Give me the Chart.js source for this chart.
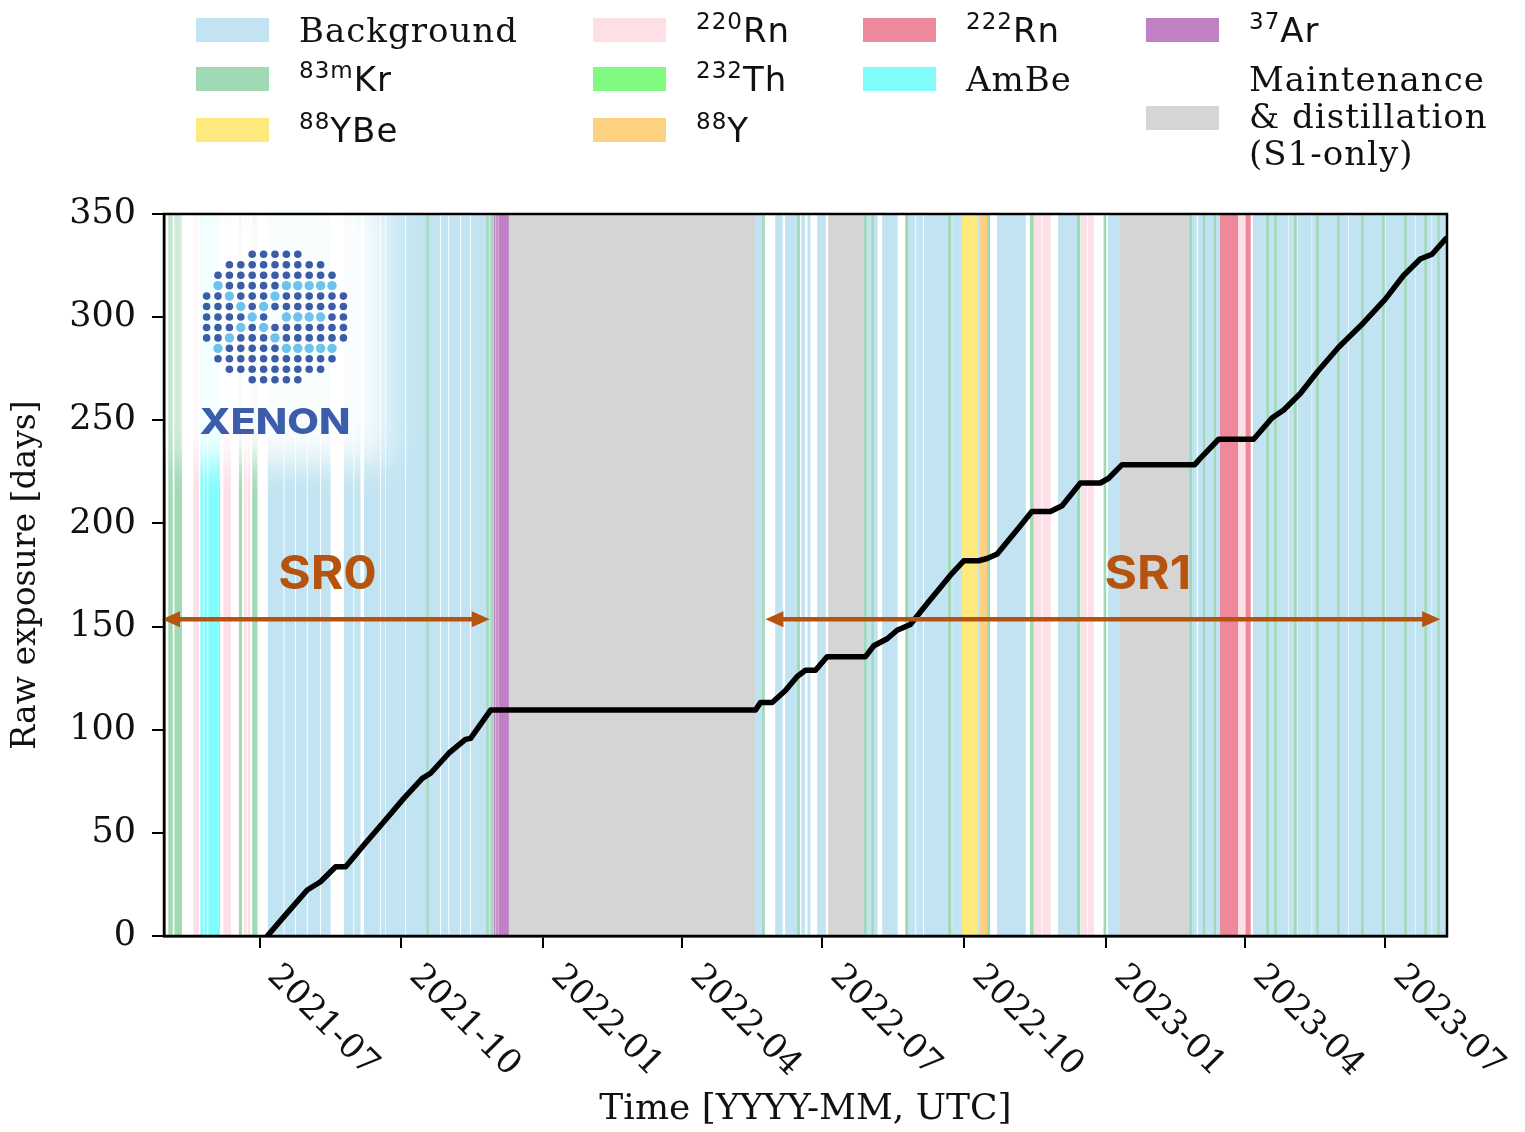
<!DOCTYPE html>
<html>
<head>
<meta charset="utf-8">
<script src="https://cdn.jsdelivr.net/npm/chart.js@4.4.1/dist/chart.umd.min.js"></script>
<style>
  body { margin: 0; background: #fff; }
  #wrap { position: relative; width: 1525px; height: 1132px; }
  #legend { position: absolute; left: 0; top: 0; width: 1525px; height: 200px; }
  .sw { position: absolute; width: 73px; height: 24px; }
  .lab { position: absolute; font-family: 'DejaVu Serif', 'Liberation Serif', serif; font-size: 34px; line-height: 37px; letter-spacing: 1px; white-space: nowrap; color: #111; }
  .iso { font-family: 'DejaVu Sans', sans-serif; }
  .iso sup { font-size: 23px; vertical-align: baseline; position: relative; top: -13px; }
</style>
</head>
<body>
<div id="wrap">
  <canvas id="chart" width="1525" height="1132"></canvas>
  <div id="legend"></div>
</div>
<script>
const serif = "'DejaVu Serif', 'Liberation Serif', serif";

// x values: days counted from 2021-07-01 (UTC)
const xMin = -62;
const xMax = 770;
const tickDays = [0, 92, 184, 274, 365, 457, 549, 639, 730];
const tickLabels = ['2021-07', '2021-10', '2022-01', '2022-04', '2022-07', '2022-10', '2023-01', '2023-04', '2023-07'];

// cumulative raw exposure [days]
const exposureDays = [5, 15.8, 30.9, 39.5, 49.3, 55.8, 67.6, 80.6, 93.5, 105.5, 110.9, 122.7, 133.5, 136.8, 149.8,
  321.6, 324.8, 332.4, 341, 348.6, 354, 360.5, 368, 392.9, 398.3, 407, 413.4, 422, 432.9, 448, 456.6, 466.3,
  471.8, 478.3, 493.5, 500.8, 512.8, 520.4, 532.3, 545.2, 550.6, 559.3, 606.4, 610, 621.9, 644.6, 656.5, 664.1,
  674.9, 685.7, 699.7, 715.9, 730, 741.8, 752.6, 760.3, 769.2];
const exposureValues = [0, 9.4, 22.3, 26.3, 33.6, 33.6, 44.1, 55.4, 66.7, 76.4, 78.9, 88.6, 95.3, 95.8, 109.5,
  109.5, 113.2, 113.2, 119, 125.8, 128.8, 128.8, 135.4, 135.4, 140.7, 144.1, 148.2, 151, 161.2, 174.9, 181.9, 181.9,
  183, 185.2, 199, 205.8, 205.8, 208.6, 219.6, 219.6, 221.9, 228.5, 228.5, 231.5, 240.8, 240.8, 251.1, 255,
  263, 273.3, 285.4, 297.3, 308.7, 320.2, 328.2, 330.5, 338];

// data-taking periods [start, end] in days since 2021-07-01
const backgroundRuns = [[5.5, 15.3], [16.3, 22.8], [23.8, 30.4], [31.4, 39], [40, 45.8], [54.9, 60.6], [61.6, 65.2],
  [67.9, 77.8], [78.8, 81.3], [82.1, 94.2], [95.2, 116.8], [117.8, 122.2], [123.2, 129.8], [130.8, 136.3], [137.3, 150],
  [321, 326.1], [334.5, 339], [341, 348.8], [351.5, 353.5], [355.5, 357], [361.8, 367], [391.6, 400.6], [403.9, 413.6],
  [418.8, 425], [426, 430], [431, 446.7], [449.3, 455.7], [465.5, 467.4], [478.4, 496.6], [518, 530.3], [550.4, 558.2],
  [602.3, 607.5], [608.8, 623], [644.4, 667], [667.8, 672.3], [673.2, 682], [682.8, 705.7], [706.5, 729.5],
  [730.3, 749], [749.8, 759.8], [760.6, 771]];
const krRuns = [[-59, -56.5], [-55, -50.6], [-13.2, -11.6], [-4.6, -1.6], [108.4, 109.4], [147.3, 148.3], [150, 151.5],
  [326.1, 327.4], [348.8, 350.2], [392.2, 393.4], [397, 398], [419, 420.4], [446.7, 448.5], [472, 473.5], [499.8, 501.8],
  [530.3, 532], [547.5, 548.8], [603, 604.5], [612, 613], [619, 620], [653, 654.3], [658.2, 659.4], [671, 672.3],
  [685.4, 686.6], [699, 700.2], [714.5, 715.8], [728.2, 729.4], [742.5, 743.7], [755.5, 756.7], [764, 765]];
const ybeRuns = [[455.7, 465.5]];
const rn220Runs = [[-42.8, -39.5], [-23.3, -18.8], [-10, -8.6], [-7.6, -6.2], [502.4, 507], [508, 512.8],
  [532.9, 536.5], [537.5, 540.7], [634.7, 639.2]];
const th232Runs = [];
const y88Runs = [[467.4, 472]];
const rn222Runs = [[623, 634.7], [639.2, 642.5]];
const ambeRuns = [[-38.2, -36.6], [-35.6, -34.2], [-33.1, -25.9]];
const ar37Runs = [[152, 152.8], [153.6, 154.3], [155, 161.4]];
const maintRuns = [[161.4, 321], [368.9, 391.6], [558.2, 602.3]];

const bandLabels = ['Background', '83mKr', '88YBe', '220Rn', '232Th', '88Y', '222Rn', 'AmBe', '37Ar',
  'Maintenance\n& distillation\n(S1-only)'];
const bandColors = ['#c2e4f2', '#a2d9b5', '#fee97f', '#fddfe6', '#80fa80', '#fed181', '#ee899b', '#80fcfc', '#c080c4', '#d5d5d5'];
const bandRuns = [backgroundRuns, krRuns, ybeRuns, rn220Runs, th232Runs, y88Runs, rn222Runs, ambeRuns, ar37Runs, maintRuns];
const legendCol = [0, 0, 0, 1, 1, 1, 2, 2, 3, 3];
const legendRow = [0, 1, 2, 0, 1, 2, 0, 1, 0, 1];

// science runs
const runLabels = ['SR0', 'SR1'];
const runStart = [-63.3, 328];
const runEnd = [149.2, 765.6];
const runLevel = 153.5;
const runLabelDay = [44, 576];
const runLabelLevel = 175;
const runColor = '#b5530f';

// logo dot pattern (d = dark, l = light)
const logoRows = ['....ddddd....', '..ddddddddd..', '.ddddddddddd.', '.ldddddlllll.', 'ddldddldddddd',
  'dddldlddddddd', 'ddddld.lllldd', 'dddldlddddddd', 'ddldddldddddd', '.ldddddlllll.', '.ddddddddddd.',
  '..ddddddddd..', '....ddddd....'];

function buildLegend() {
  const colX = [196, 593, 863, 1146];
  const rowY = [30, 79, 130];
  const box = document.getElementById('legend');
  bandLabels.forEach((label, i) => {
    const x = colX[legendCol[i]];
    const lines = label.split('\n');
    const cy = rowY[legendRow[i]];
    const sw = document.createElement('div');
    sw.className = 'sw';
    sw.style.left = x + 'px';
    sw.style.top = (lines.length > 1 ? 118 : cy) - 12 + 'px';
    sw.style.background = bandColors[i];
    box.appendChild(sw);
    const lab = document.createElement('div');
    lab.className = 'lab';
    lab.style.left = (x + 103) + 'px';
    lab.style.top = (cy - 18.5) + 'px';
    const m = label.match(/^(\d+m?)(.*)$/);
    if (m) lab.innerHTML = '<span class="iso"><sup>' + m[1] + '</sup>' + m[2] + '</span>';
    else lab.innerHTML = lines.join('<br>').replace(/&(?!lt|gt|amp)/g, '&amp;');
    box.appendChild(lab);
  });
}

function drawLogo(chart) {
  const {ctx, chartArea: a} = chart;
  ctx.save();
  ctx.beginPath();
  ctx.rect(a.left, a.top, a.right - a.left, a.bottom - a.top);
  ctx.clip();
  ctx.filter = 'blur(18px)';
  ctx.fillStyle = 'rgba(255,255,255,0.92)';
  ctx.fillRect(a.left + 12, a.top - 24, 210, 272);
  ctx.filter = 'none';

  const cx = a.left + 111, cy = a.top + 103;
  logoRows.forEach((row, r) => {
    for (let c = 0; c < row.length; c++) {
      const ch = row[c];
      if (ch === '.') continue;
      ctx.beginPath();
      ctx.arc(cx + (c - 6) * 11.4, cy + (r - 6) * 10.45, ch === 'l' ? 4.7 : 3.8, 0, Math.PI * 2);
      ctx.fillStyle = ch === 'l' ? '#6cc4ee' : '#3b5ca8';
      ctx.fill();
    }
  });
  ctx.translate(cx, a.top + 209);
  ctx.scale(1.14, 1);
  ctx.font = "800 36px Inter, 'DejaVu Sans', sans-serif";
  ctx.fillStyle = '#3c5dab';
  ctx.textAlign = 'center';
  ctx.textBaseline = 'middle';
  ctx.fillText('XENON', 0, 0);
  ctx.restore();
}

function drawRuns(chart) {
  const {ctx, scales: {x, y}} = chart;
  const head = 18, half = 8;
  ctx.save();
  ctx.strokeStyle = runColor;
  ctx.fillStyle = runColor;
  ctx.lineWidth = 4.5;
  runLabels.forEach((label, i) => {
    const x1 = x.getPixelForValue(runStart[i]);
    const x2 = x.getPixelForValue(runEnd[i]);
    const py = y.getPixelForValue(runLevel);
    ctx.beginPath();
    ctx.moveTo(x1 + head - 2, py);
    ctx.lineTo(x2 - head + 2, py);
    ctx.stroke();
    ctx.beginPath();
    ctx.moveTo(x1, py);
    ctx.lineTo(x1 + head, py - half);
    ctx.lineTo(x1 + head, py + half);
    ctx.closePath();
    ctx.fill();
    ctx.beginPath();
    ctx.moveTo(x2, py);
    ctx.lineTo(x2 - head, py - half);
    ctx.lineTo(x2 - head, py + half);
    ctx.closePath();
    ctx.fill();

    ctx.save();
    ctx.translate(x.getPixelForValue(runLabelDay[i]), y.getPixelForValue(runLabelLevel));
    ctx.scale(1.08, 1);
    ctx.font = "700 46px Inter, 'DejaVu Sans', sans-serif";
    ctx.textAlign = 'center';
    ctx.textBaseline = 'middle';
    ctx.fillText(label, 0, 0);
    ctx.restore();
  });
  ctx.restore();
}

const decor = {
  id: 'decor',
  beforeDatasetDraw(chart, args) {
    if (args.meta.type === 'line') drawLogo(chart);
  },
  afterDatasetsDraw(chart) {
    drawRuns(chart);
  },
  afterDraw(chart) {
    const {ctx, chartArea: a, scales: {x}} = chart;
    ctx.save();
    ctx.strokeStyle = '#000';
    ctx.lineWidth = 2.5;
    ctx.strokeRect(a.left, a.top, a.right - a.left, a.bottom - a.top);
    ctx.fillStyle = '#111';
    ctx.font = '34px ' + serif;
    ctx.textAlign = 'left';
    ctx.textBaseline = 'middle';
    tickDays.forEach((d, i) => {
      ctx.save();
      ctx.translate(x.getPixelForValue(d) + 13, a.bottom + 35);
      ctx.rotate(Math.PI / 4);
      ctx.fillText(tickLabels[i], 0, 0);
      ctx.restore();
    });
    ctx.restore();
  }
};

const datasets = [{
  type: 'line',
  label: 'Raw exposure',
  data: exposureDays.map((d, i) => ({x: d, y: exposureValues[i]})),
  xAxisID: 'x',
  yAxisID: 'y',
  borderColor: '#000',
  borderWidth: 5.5,
  borderJoinStyle: 'round',
  borderCapStyle: 'round',
  pointRadius: 0,
  tension: 0,
  fill: false,
  order: 0
}];

bandRuns.forEach((runs, i) => {
  datasets.push({
    type: 'bar',
    label: bandLabels[i],
    indexAxis: 'y',
    data: runs.map(r => ({x: r, y: 'band'})),
    xAxisID: 'x',
    yAxisID: 'yb',
    backgroundColor: bandColors[i],
    borderWidth: 0,
    grouped: false,
    barPercentage: 1,
    categoryPercentage: 1,
    order: i === 0 ? 2 : 1
  });
});

buildLegend();

new Chart(document.getElementById('chart'), {
  type: 'line',
  data: {datasets},
  options: {
    responsive: false,
    animation: false,
    devicePixelRatio: 1,
    layout: {padding: {top: 214, right: 78, left: 0, bottom: 0}},
    plugins: {legend: {display: false}, tooltip: {enabled: false}},
    scales: {
      x: {
        type: 'linear',
        min: xMin,
        max: xMax,
        z: 1,
        afterBuildTicks: s => { s.ticks = tickDays.map(v => ({value: v})); },
        afterFit: s => { s.height = 196; },
        ticks: {display: false},
        grid: {drawOnChartArea: false, drawTicks: true, tickLength: 12, color: '#000', lineWidth: 2},
        border: {color: '#000', width: 2.5},
        title: {display: true, text: 'Time [YYYY-MM, UTC]', color: '#111', font: {family: serif, size: 36}, padding: {top: 0, bottom: 1}}
      },
      y: {
        type: 'linear',
        min: 0,
        max: 350,
        z: 1,
        afterFit: s => { s.width = 164; },
        ticks: {stepSize: 50, color: '#111', font: {family: serif, size: 35}, padding: 16},
        grid: {drawOnChartArea: false, drawTicks: true, tickLength: 12, color: '#000', lineWidth: 2},
        border: {color: '#000', width: 2.5},
        title: {display: true, text: 'Raw exposure [days]', color: '#111', font: {family: serif, size: 33}, padding: {top: 7, bottom: 0}}
      },
      yb: {
        type: 'category',
        labels: ['band'],
        display: false,
        offset: true
      }
    }
  },
  plugins: [decor]
});
</script>
</body>
</html>
